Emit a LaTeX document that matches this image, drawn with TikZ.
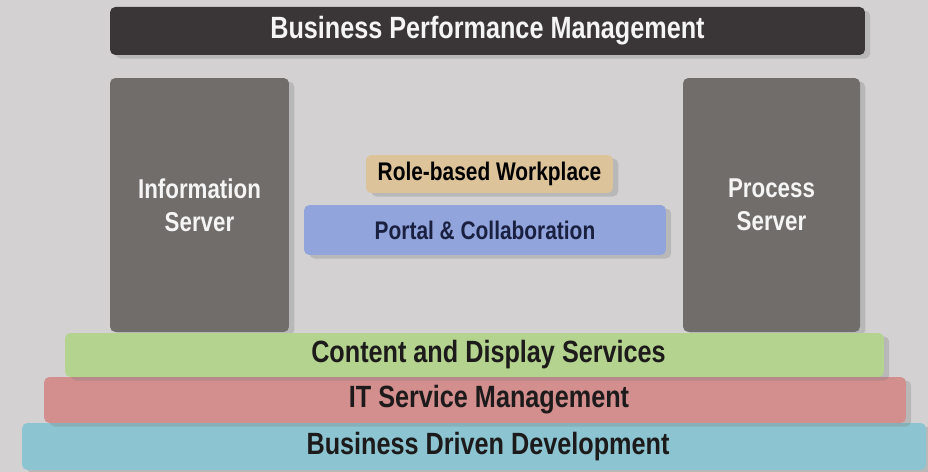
\documentclass[tikz,border=0pt]{standalone}
\usepackage{fontspec}
\setmainfont{Liberation Sans}[FakeStretch=0.82]
\usetikzlibrary{shadows}
\definecolor{bggray}{HTML}{D3D1D1}
\definecolor{bpmdark}{HTML}{3A3536}
\definecolor{servgray}{HTML}{716D6B}
\definecolor{roletan}{HTML}{DCC39A}
\definecolor{portalblue}{HTML}{92A4DC}
\definecolor{contgreen}{HTML}{B4D38E}
\definecolor{itred}{HTML}{D38E8E}
\definecolor{bddcyan}{HTML}{8CC5D1}
\definecolor{navytext}{HTML}{1A2040}
\definecolor{darktext}{HTML}{1C1A1A}
\tikzset{
  layer/.style={rounded corners=3pt, inner sep=0pt, text=darktext, font=\bfseries\fontsize{17.5}{20}\selectfont,
    drop shadow={shadow xshift=3pt, shadow yshift=-2pt, opacity=0.3}},
  server/.style={layer, fill=servgray, text=white!92!gray, align=center,
    font=\bfseries\fontsize{15.5}{19}\selectfont},
  base/.style={layer, label={[text=darktext, font=\bfseries\fontsize{17.5}{20}\selectfont, xshift=0.28cm]center:#1}}
}
\begin{document}
\begin{tikzpicture}[x=0.02cm, y=-0.02cm]
%background
	\fill[bggray] (0,0) rectangle (928,472);
	
	%top bar
	\node[layer, fill=bpmdark, text=white!92!gray, minimum width=15.1cm, minimum height=0.96cm] (bpm) at (487.5,31) {Business Performance Management};
	
	%servers
	\node[server, minimum width=3.58cm, minimum height=5.08cm] (info) at (199.5,205) {Information\\Server};
	\node[server, minimum width=3.54cm, minimum height=5.08cm] (proc) at (771.5,205) {Process\\Server};
	
	%middle
	\node[layer, fill=roletan, text=black, minimum width=4.94cm, minimum height=0.76cm, font=\bfseries\fontsize{14.5}{16}\selectfont] (role) at (489.5,174) {Role-based Workplace};
	\node[layer, fill=portalblue, text=navytext, minimum width=7.24cm, minimum height=1.0cm, font=\bfseries\fontsize{14.5}{16}\selectfont] (portal) at (485,230) {Portal \& Collaboration};
	
	%bottom layers
	\node[base=Business Driven Development, fill=bddcyan, minimum width=18.08cm, minimum height=0.94cm] (bdd) at (474,446.5) {};
	\node[base=IT Service Management, fill=itred, minimum width=17.24cm, minimum height=0.92cm] (itsm) at (475,400) {};
	\node[base=Content and Display Services, fill=contgreen, minimum width=16.38cm, minimum height=0.88cm] (cds) at (474.5,355) {};
\end{tikzpicture}
\end{document}
